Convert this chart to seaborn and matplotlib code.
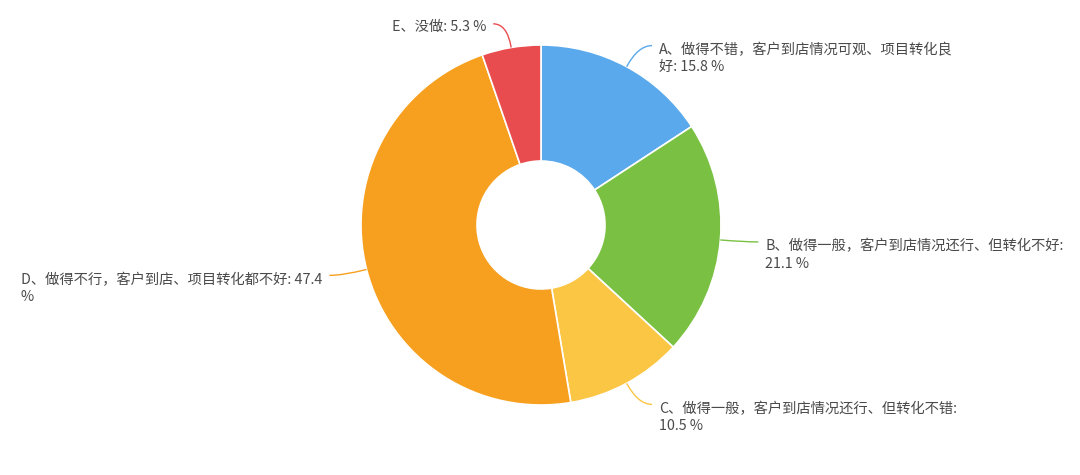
import numpy as np
import seaborn as sns
import matplotlib.pyplot as plt
from matplotlib.path import Path
from matplotlib.patches import PathPatch

# survey answers and their shares (%)
labels = [
    "A、做得不错，客户到店情况可观、项目转化良\n好: 15.8 %",
    "B、做得一般，客户到店情况还行、但转化不好:\n21.1 %",
    "C、做得一般，客户到店情况还行、但转化不错:\n10.5 %",
    "D、做得不行，客户到店、项目转化都不好: 47.4\n%",
    "E、没做: 5.3 %",
]
shares = [15.8, 21.1, 10.5, 47.4, 5.3]
colors = ["#5aa9ec", "#7ac143", "#fcc645", "#f7a01f", "#e84c4e"]

sns.set_theme(style="white")
plt.rcParams["font.family"] = ["Noto Sans CJK SC", "DejaVu Sans"]

W, H = 1080, 475
cx, cy = 541, H - 225
R, r_in = 180, 64

fig = plt.figure(figsize=(W / 100, H / 100), dpi=100)
ax = fig.add_axes([0, 0, 1, 1])
ax.axis("off")

wedges, _ = ax.pie(shares, colors=colors, startangle=90, counterclock=False,
                   center=(cx, cy), radius=R,
                   wedgeprops=dict(width=R - r_in, edgecolor="white", linewidth=1.2))
ax.set_xlim(0, W)
ax.set_ylim(0, H)
ax.set_aspect("equal")

for w, lab, col in zip(wedges, labels, colors):
    ang = np.deg2rad((w.theta1 + w.theta2) / 2)
    ca, sa = np.cos(ang), np.sin(ang)
    p0 = (cx + R * ca, cy + R * sa)
    p1 = (cx + (R + 24) * ca, cy + (R + 24) * sa)
    side = 1 if ca >= 0 else -1
    p2 = (p1[0] + side * 14, p1[1])
    path = Path([p0, p1, p2], [Path.MOVETO, Path.CURVE3, Path.CURVE3])
    ax.add_patch(PathPatch(path, fill=False, edgecolor=col, lw=1))
    nlines = lab.count("\n") + 1
    ty = p2[1] - (10 if nlines > 1 else 0) - 3
    ax.text(p2[0] + side * 7, ty, lab, ha="left" if side > 0 else "right",
            multialignment="left", va="center", fontsize=10.3, color="#4a4a4a",
            linespacing=1.3)

fig.savefig("out.png", dpi=100)
